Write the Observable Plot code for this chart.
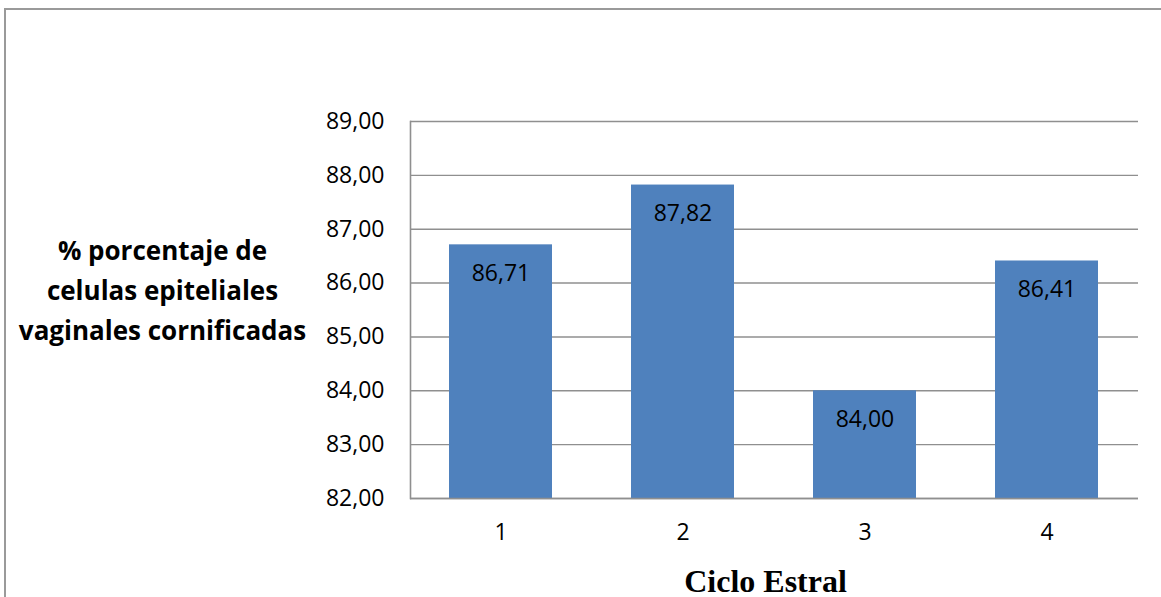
<!DOCTYPE html>
<html>
<head>
<meta charset="utf-8">
<script src="https://cdn.jsdelivr.net/npm/d3@7"></script>
<script src="https://cdn.jsdelivr.net/npm/@observablehq/plot@0.6"></script>
<style>
  html, body { margin: 0; padding: 0; background: #fff; overflow: hidden; }
  #wrap { position: relative; width: 1161px; height: 597px; }
  #frame { position: absolute; left: 4px; top: 8px; width: 1200px; height: 700px; border: 2px solid #9a9a9a; box-sizing: border-box; }
  #chart { position: absolute; left: 0; top: 0; }
</style>
</head>
<body>
<div id="wrap"><div id="frame"></div><div id="chart"></div></div>
<script>
const categories = ["1", "2", "3", "4"];
const values = [86.71, 87.82, 84.00, 86.41];
const yTicks = [82, 83, 84, 85, 86, 87, 88, 89];
const yLabel = "% porcentaje de\ncelulas epiteliales\nvaginales cornificadas";
const xLabel = "Ciclo Estral";

const data = categories.map((c, i) => ({cat: c, value: values[i]}));
const fmt = v => v.toFixed(2).replace(".", ",");

const chart = Plot.plot({
  width: 1161,
  height: 597,
  marginLeft: 410,
  marginRight: 23,
  marginTop: 121,
  marginBottom: 99,
  style: {fontFamily: "'Open Sans', sans-serif", background: "transparent", color: "black"},
  x: {domain: categories, paddingInner: 0.434, paddingOuter: 0.217, label: null},
  y: {domain: [82, 89], label: null},
  marks: [
    Plot.gridY(yTicks, {stroke: "#8f8f8f", strokeOpacity: 1, strokeWidth: 1.4}),
    Plot.barY(data, {x: "cat", y1: 82, y2: "value", fill: "#4f81bd"}),
    Plot.ruleY([82], {stroke: "#8f8f8f", strokeWidth: 1.6}),
    Plot.frame({anchor: "left", stroke: "#8f8f8f", strokeWidth: 1.6}),
    Plot.axisY({ticks: yTicks, tickSize: 0, tickPadding: 26, tickFormat: fmt, fontSize: 23, label: null, fill: "black"}),
    Plot.axisX({tickSize: 0, tickPadding: 25, fontSize: 23, label: null, fill: "black"}),
    Plot.text(data, {x: "cat", y: "value", text: d => fmt(d.value), dy: 29, fontSize: 23, fill: "black"}),
    Plot.text([yLabel], {frameAnchor: "left", dx: -248, dy: -23, text: d => d, fontSize: 26, fontWeight: "bold", lineHeight: 1.55, textAnchor: "middle", fill: "black"}),
    Plot.text([xLabel], {frameAnchor: "bottom", dx: -9, dy: 93, text: d => d, fontSize: 32, fontWeight: "bold", fontFamily: "'Liberation Serif', 'Times New Roman', serif", fill: "black"})
  ]
});
document.getElementById("chart").appendChild(chart);
</script>
</body>
</html>
